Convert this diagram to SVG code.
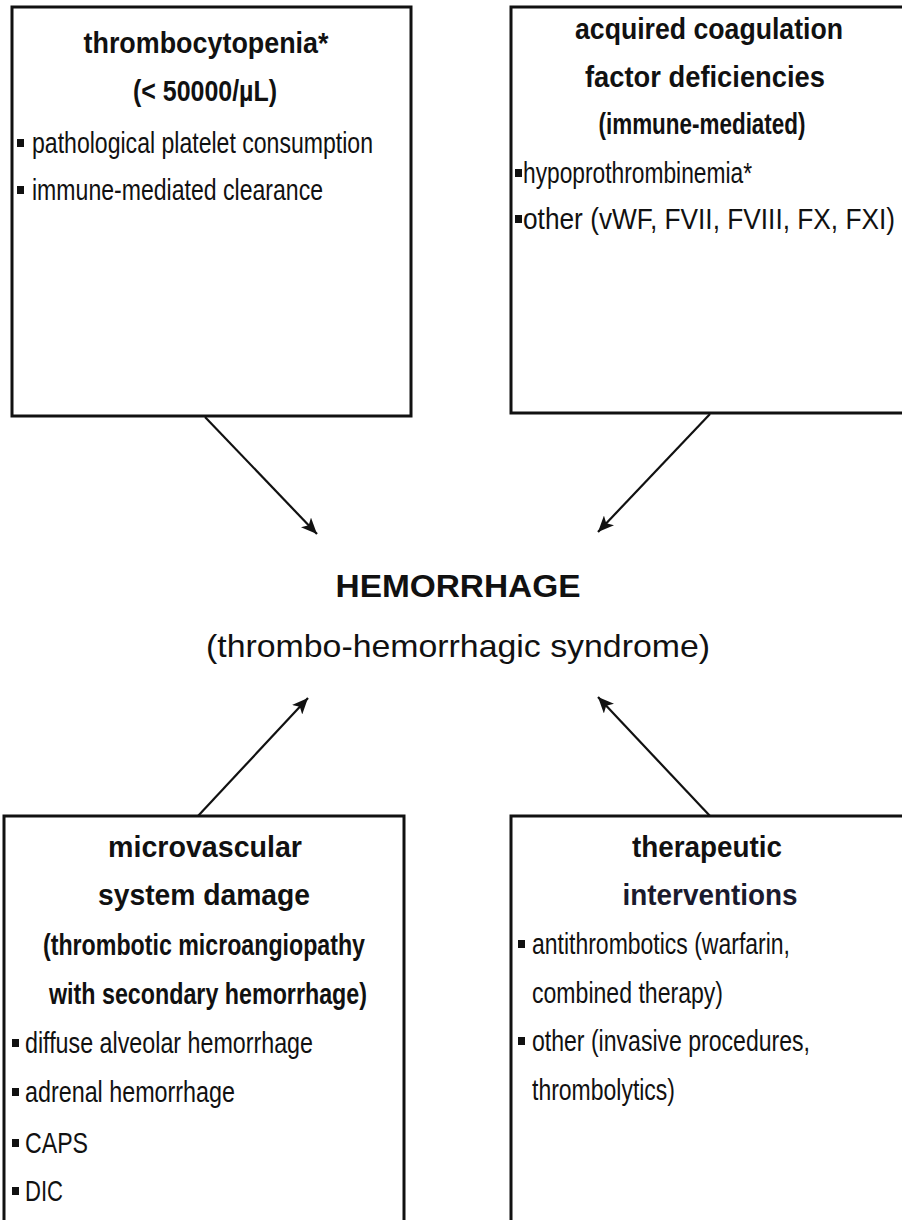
<svg xmlns="http://www.w3.org/2000/svg" width="902" height="1220" viewBox="0 0 902 1220">
  <style>
    .box { fill: #ffffff; stroke: #111111; stroke-width: 3; }
    .title { font-family: "Liberation Sans", Arial, sans-serif; font-weight: bold; font-size: 29px; fill: #111111; text-anchor: middle; }
    .item { font-family: "Liberation Sans Narrow", "Arial Narrow", "Liberation Sans", Arial, sans-serif; font-size: 30px; fill: #111111; }
    .bullet { fill: #111111; }
    .link { stroke: #111111; stroke-width: 2.2; fill: none; }
    .main { font-family: "Liberation Sans", Arial, sans-serif; fill: #111111; text-anchor: middle; }
  </style>
  <defs>
    <marker id="arrow" markerUnits="userSpaceOnUse" markerWidth="18" markerHeight="14" refX="16" refY="7" orient="auto">
      <path d="M0,0 L16,7 L0,14 L4,7 z" fill="#111111"/>
    </marker>
  </defs>
  <rect width="902" height="1220" fill="#ffffff"/>

  <!-- thrombocytopenia -->
  <g id="thrombocytopenia">
    <rect class="box" x="12" y="7" width="399" height="409"/>
    <text class="title" x="206" y="53" textLength="245" lengthAdjust="spacingAndGlyphs">thrombocytopenia*</text>
    <text class="title" x="205" y="101" textLength="144" lengthAdjust="spacingAndGlyphs">(&lt; 50000/µL)</text>
    <rect class="bullet" x="17" y="139" width="7" height="8"/>
    <text class="item" x="32" y="153" textLength="341" lengthAdjust="spacingAndGlyphs">pathological platelet consumption</text>
    <rect class="bullet" x="17" y="186" width="7" height="8"/>
    <text class="item" x="32" y="200" textLength="291" lengthAdjust="spacingAndGlyphs">immune-mediated clearance</text>
  </g>

  <!-- acquired coagulation factor deficiencies -->
  <g id="coagulation-deficiencies">
    <rect class="box" x="511" y="7" width="400" height="406"/>
    <text class="title" x="709" y="39" textLength="268" lengthAdjust="spacingAndGlyphs">acquired coagulation</text>
    <text class="title" x="705" y="87" textLength="240" lengthAdjust="spacingAndGlyphs">factor deficiencies</text>
    <text class="title" x="702" y="134" textLength="207" lengthAdjust="spacingAndGlyphs">(immune-mediated)</text>
    <rect class="bullet" x="515" y="169" width="7" height="8"/>
    <text class="item" x="523" y="183" textLength="229" lengthAdjust="spacingAndGlyphs">hypoprothrombinemia*</text>
    <rect class="bullet" x="515" y="215" width="7" height="8"/>
    <text class="item" x="523" y="229" textLength="372" lengthAdjust="spacingAndGlyphs">other (vWF, FVII, FVIII, FX, FXI)</text>
  </g>

  <!-- central outcome -->
  <g id="hemorrhage">
    <text class="main" x="458" y="597" font-size="31" font-weight="bold" textLength="245" lengthAdjust="spacingAndGlyphs">HEMORRHAGE</text>
    <text class="main" x="458" y="657" font-size="32" textLength="504" lengthAdjust="spacingAndGlyphs">(thrombo-hemorrhagic syndrome)</text>
  </g>

  <!-- microvascular system damage -->
  <g id="microvascular-damage">
    <rect class="box" x="4" y="816" width="400" height="420"/>
    <text class="title" x="205" y="857" textLength="194" lengthAdjust="spacingAndGlyphs">microvascular</text>
    <text class="title" x="204" y="905" textLength="212" lengthAdjust="spacingAndGlyphs">system damage</text>
    <text class="title" x="204" y="955" textLength="322" lengthAdjust="spacingAndGlyphs">(thrombotic microangiopathy</text>
    <text class="title" x="208" y="1004" textLength="318" lengthAdjust="spacingAndGlyphs">with secondary hemorrhage)</text>
    <rect class="bullet" x="12" y="1039" width="7" height="8"/>
    <text class="item" x="25" y="1053" textLength="288" lengthAdjust="spacingAndGlyphs">diffuse alveolar hemorrhage</text>
    <rect class="bullet" x="12" y="1088" width="7" height="8"/>
    <text class="item" x="25" y="1102" textLength="210" lengthAdjust="spacingAndGlyphs">adrenal hemorrhage</text>
    <rect class="bullet" x="12" y="1139" width="7" height="8"/>
    <text class="item" x="25" y="1153" textLength="63" lengthAdjust="spacingAndGlyphs">CAPS</text>
    <rect class="bullet" x="12" y="1187" width="7" height="8"/>
    <text class="item" x="25" y="1201" textLength="38" lengthAdjust="spacingAndGlyphs">DIC</text>
  </g>

  <!-- therapeutic interventions -->
  <g id="therapeutic-interventions">
    <rect class="box" x="511" y="816" width="400" height="420"/>
    <text class="title" x="707" y="857" textLength="150" lengthAdjust="spacingAndGlyphs">therapeutic</text>
    <text class="title" x="710" y="905" textLength="175" lengthAdjust="spacingAndGlyphs" style="fill:#1a1a2e">interventions</text>
    <rect class="bullet" x="518" y="940" width="7" height="8"/>
    <text class="item" x="532" y="954" textLength="258" lengthAdjust="spacingAndGlyphs">antithrombotics (warfarin,</text>
    <text class="item" x="532" y="1003" textLength="191" lengthAdjust="spacingAndGlyphs">combined therapy)</text>
    <rect class="bullet" x="518" y="1037" width="7" height="8"/>
    <text class="item" x="532" y="1051" textLength="278" lengthAdjust="spacingAndGlyphs">other (invasive procedures,</text>
    <text class="item" x="532" y="1100" textLength="143" lengthAdjust="spacingAndGlyphs">thrombolytics)</text>
  </g>

  <!-- connectors -->
  <g id="connectors">
    <line class="link" x1="205" y1="417" x2="317" y2="534" marker-end="url(#arrow)"/>
    <line class="link" x1="710" y1="414" x2="598" y2="532" marker-end="url(#arrow)"/>
    <line class="link" x1="198" y1="816" x2="308" y2="698" marker-end="url(#arrow)"/>
    <line class="link" x1="710" y1="816" x2="598" y2="697" marker-end="url(#arrow)"/>
  </g>
</svg>
